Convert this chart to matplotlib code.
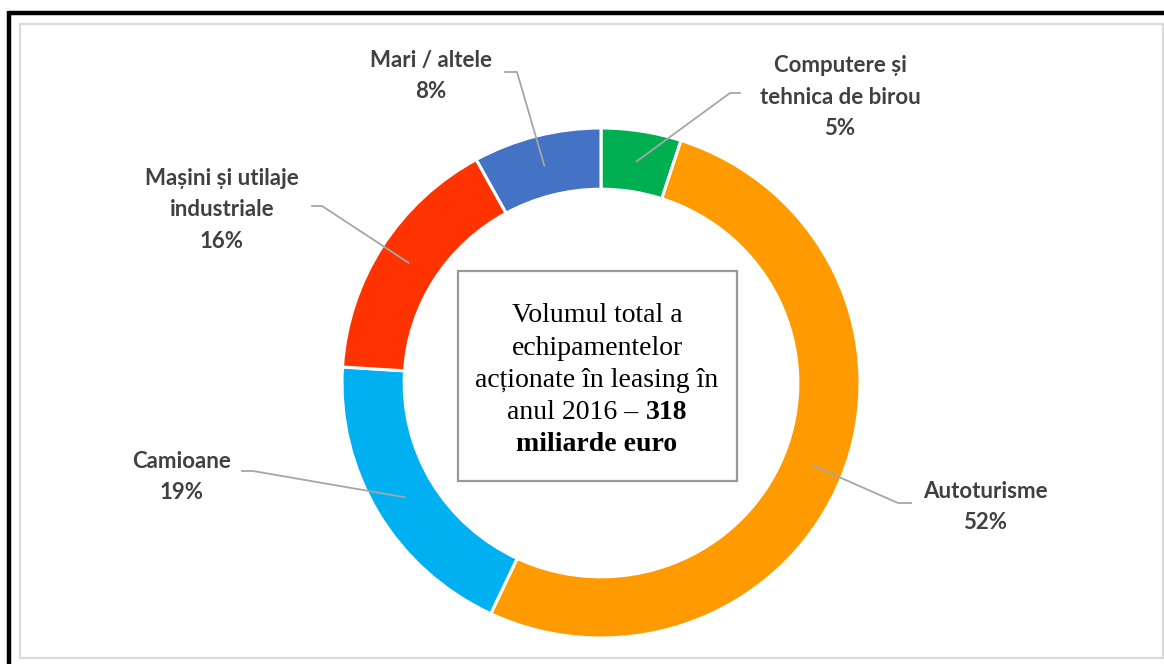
import numpy as np
import matplotlib.pyplot as plt
from matplotlib.patches import Rectangle
from matplotlib.lines import Line2D

# data
labels = ["Computere și\ntehnica de birou", "Autoturisme", "Camioane",
          "Mașini și utilaje\nindustriale", "Mari / altele"]
shares = [5, 52, 19, 16, 8]
colors = ['#00B050', '#FF9A00', '#00B0F0', '#FF3300', '#4472C4']

# label text centres and elbow points (pixels, y from top)
label_pos = [(840, 97), (985, 507), (182, 477), (222, 210), (431, 76)]
elbows = [[(740, 93), (730, 93)], [(911, 503), (898, 503)], [(242, 471), (253, 471)],
          [(312, 206), (322, 206)], [(505, 72), (517, 72)]]

W, H = 1164, 664
cx, cy, rx, ry = 601, 383, 259, 255

def px(x, y):
    return (x - cx) / rx, (cy - y) / ry

fig = plt.figure(figsize=(W / 100, H / 100), dpi=100)
ax = fig.add_axes([0, 0, 1, 1])
ax.axis('off')

# frames
fig.add_artist(Rectangle((20 / W, 1 - 658 / H), 1143 / W, 634 / H, transform=fig.transFigure,
                         fill=False, edgecolor='#D9D9D9', linewidth=1.6))
fig.add_artist(Line2D([9 / W, 1], [1 - 13 / H, 1 - 13 / H], transform=fig.transFigure,
                      color='black', linewidth=3.2, solid_capstyle='butt'))
fig.add_artist(Line2D([9 / W, 9 / W], [0, 1 - 11 / H], transform=fig.transFigure,
                      color='black', linewidth=3.2, solid_capstyle='butt'))

wedges, _ = ax.pie(shares, colors=colors, startangle=90, counterclock=False,
                   radius=1, wedgeprops=dict(width=0.24, edgecolor='white', linewidth=2.2))
ax.set_aspect('auto')
ax.set_xlim(-cx / rx, (W - cx) / rx)
ax.set_ylim((cy - H) / ry, cy / ry)

for w, lab, val, pos, elb in zip(wedges, labels, shares, label_pos, elbows):
    mid = np.deg2rad((w.theta1 + w.theta2) / 2)
    tip = (0.88 * np.cos(mid), 0.88 * np.sin(mid))
    pts = [px(*elb[0]), px(*elb[1]), tip]
    ax.plot([p[0] for p in pts], [p[1] for p in pts], color='#A6A6A6', linewidth=1.3)
    tx, ty = px(*pos)
    ax.text(tx, ty, f"{lab}\n{val}%", ha='center', va='center', fontsize=16,
            fontweight='bold', color='#404040', family='Lato', linespacing=1.62)

# centre box
bx0, by0 = px(458, 481)
bx1, by1 = px(737, 271)
ax.add_patch(Rectangle((bx0, by0), bx1 - bx0, by1 - by0, facecolor='white',
                       edgecolor='#999999', linewidth=1.6))
serif = dict(fontsize=20, family='Liberation Serif', color='black', va='center')
lines = ["Volumul total a", "echipamentelor", "acționate în leasing în"]
ys = [316, 349, 381]
for t, y in zip(lines, ys):
    ax.text(*px(597, y), t, ha='center', **serif)
ax.text(*px(597, 445), "miliarde euro", ha='center', fontweight='bold', **serif)

# mixed regular/bold line, centred as a whole
tx, ty = px(597, 413)
t1 = ax.text(tx, ty, "anul 2016 – ", ha='left', **serif)
t2 = ax.text(tx, ty, "318", ha='left', fontweight='bold', **serif)
fig.canvas.draw()
r = fig.canvas.get_renderer()
w1 = t1.get_window_extent(r).width
w2 = t2.get_window_extent(r).width
start = 597 - (w1 + w2) / 2
t1.set_position(px(start, 413))
t2.set_position(px(start + w1, 413))

fig.savefig('out.png', dpi=100, facecolor='white')
